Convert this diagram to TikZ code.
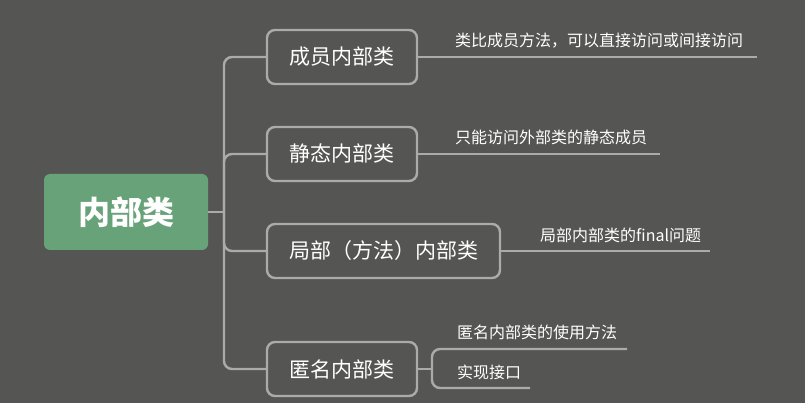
\documentclass[tikz,border=0pt]{standalone}
\usepackage{fontspec}
\setmainfont{Noto Sans CJK SC}
\definecolor{bg}{HTML}{555654}
\definecolor{ln}{HTML}{ABABA9}
\definecolor{rootgreen}{HTML}{68A278}
\tikzset{
  conn/.style={draw=ln, line width=2.4pt, rounded corners=8pt},
  rootbox/.style={fill=rootgreen, rounded corners=6pt, minimum width=164pt, minimum height=76pt, text=white, font=\fontsize{32}{36}\selectfont\bfseries, inner sep=0pt},
  topicbox/.style={draw=ln, line width=2.4pt, rounded corners=8pt, minimum height=54pt, text=white, font=\fontsize{21}{24}\selectfont, inner sep=0pt},
  leaftext/.style={anchor=west, text=white, font=\fontsize{16}{19}\selectfont, inner sep=0pt}
}
\begin{document}
\begin{tikzpicture}[x=1pt, y=-1pt]
\fill[bg] (0,0) rectangle (805,403);
\useasboundingbox (0,0) rectangle (805,403);

\node[rootbox] (root) at (126,212) {内部类};
\node[topicbox, minimum width=150pt] (b1) at (342,57) {成员内部类};
\node[topicbox, minimum width=150pt] (b2) at (342,154) {静态内部类};
\node[topicbox, minimum width=233pt] (b3) at (383.5,251) {局部（方法）内部类};
\node[topicbox, minimum width=150pt] (b4) at (342,369) {匿名内部类};

\coordinate (sp) at (224,212);
\draw[conn] (root.east) -- (sp);
\draw[conn] (sp) -- (224,57) -- (b1.west);
\draw[conn] (sp) -- (224,154) -- (b2.west);
\draw[conn] (sp) -- (224,251) -- (b3.west);
\draw[conn] (sp) -- (224,369) -- (b4.west);

\coordinate (e1) at (757,57);
\coordinate (e2) at (660,154);
\coordinate (e3) at (710,251);
\coordinate (j4) at (432,369);
\coordinate (e4a) at (627,349);
\coordinate (e4b) at (530,388);

\draw[conn] (b1.east) -- (e1);
\draw[conn] (b2.east) -- (e2);
\draw[conn] (b3.east) -- (e3);
\draw[conn] (b4.east) -- (j4);
\draw[conn] (j4) -- (432,349) -- (e4a);
\draw[conn] (j4) -- (432,388) -- (e4b);

\node[leaftext] (t1) at (455,41) {类比成员方法，可以直接访问或间接访问};
\node[leaftext] (t2) at (455,137) {只能访问外部类的静态成员};
\node[leaftext] (t3) at (540,235) {局部内部类的final问题};
\node[leaftext] (t4a) at (457,332) {匿名内部类的使用方法};
\node[leaftext] (t4b) at (457,372) {实现接口};
\end{tikzpicture}
\end{document}
